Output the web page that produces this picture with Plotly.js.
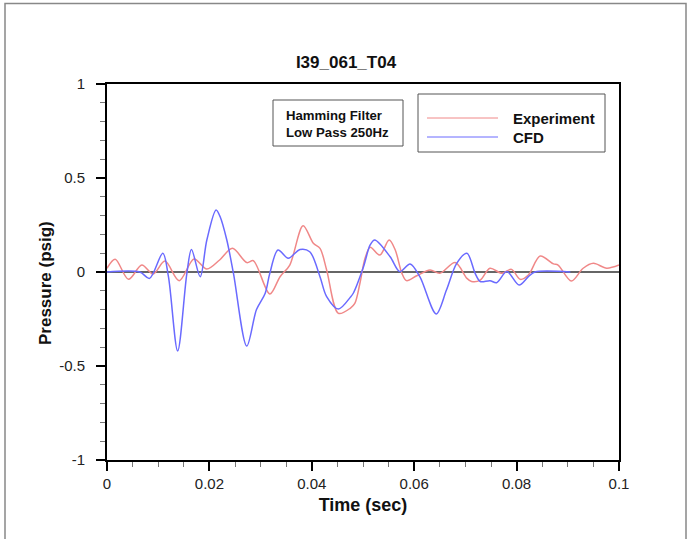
<!DOCTYPE html>
<html>
<head>
<meta charset="utf-8">
<script src="https://cdn.plot.ly/plotly-3.0.1.min.js"></script>
<style>html,body{margin:0;padding:0;background:#fff;}#chart{width:687px;height:539px;}</style>
</head>
<body>
<div id="chart"></div>
<script>
// Experiment series (time in sec, pressure in psig)
const expTime = [0, 0.0016, 0.0042, 0.0068, 0.009, 0.0113, 0.0141, 0.017, 0.0195, 0.022,
  0.0245, 0.0273, 0.0286, 0.0318, 0.0338, 0.0357, 0.0383, 0.0403, 0.0416, 0.0429,
  0.0452, 0.0475, 0.0484, 0.0494, 0.0504, 0.0514, 0.0533, 0.0551, 0.0563, 0.0576,
  0.0585, 0.0605, 0.0631, 0.065, 0.068, 0.0703, 0.0712, 0.0729, 0.0748, 0.0771,
  0.079, 0.0807, 0.0823, 0.0846, 0.0872, 0.0881, 0.0907, 0.093, 0.095, 0.0976, 0.1];
const expPressure = [0.02, 0.068, -0.039, 0.037, -0.011, 0.058, -0.046, 0.069, 0.016, 0.064,
  0.126, 0.05, 0.06, -0.117, -0.025, 0.037, 0.246, 0.153, 0.126, 0.011,
  -0.22, -0.193, -0.167, -0.06, 0.073, 0.131, 0.09, 0.17, 0.117, -0.007,
  -0.046, -0.02, 0.011, -0.007, 0.05, -0.034, -0.05, -0.043, 0.02, -0.007,
  0.014, -0.039, -0.016, 0.085, 0.043, 0.037, -0.048, 0.02, 0.046, 0.02, 0.037];

// CFD series
const cfdTime = [0, 0.0064, 0.0083, 0.0109, 0.012, 0.0138, 0.0156, 0.0165, 0.0182, 0.0195,
  0.0213, 0.0221, 0.0234, 0.0247, 0.0273, 0.0292, 0.0309, 0.0318, 0.0334, 0.0354,
  0.0377, 0.0396, 0.0416, 0.0429, 0.0452, 0.0475, 0.0481, 0.0501, 0.0514, 0.0523,
  0.0553, 0.0572, 0.0592, 0.0611, 0.0643, 0.0663, 0.0683, 0.0703, 0.0719, 0.0729,
  0.0748, 0.0761, 0.0781, 0.0805, 0.0823, 0.0836, 0.0905];
const cfdPressure = [0, 0, -0.034, 0.1, -0.025, -0.42, -0.007, 0.12, -0.025, 0.17,
  0.33, 0.294, 0.17, -0.007, -0.394, -0.2, -0.113, -0.007, 0.117, 0.073,
  0.12, 0.108, -0.025, -0.131, -0.197, -0.135, -0.113, 0.028, 0.144, 0.17,
  0.081, 0.002, 0.043, -0.025, -0.223, -0.096, 0.046, 0.1, -0.007, -0.051,
  -0.046, -0.057, 0.002, -0.069, -0.025, 0, 0];

const seriesNames = ["Experiment", "CFD"];
const seriesColors = ["#f08888", "#6a6aff"];
const chartTitle = "I39_061_T04";
const xTitle = "Time (sec)";
const yTitle = "Pressure (psig)";
const xTickVals = [0, 0.02, 0.04, 0.06, 0.08, 0.1];
const xTickText = ["0", "0.02", "0.04", "0.06", "0.08", "0.1"];
const yTickVals = [-1, -0.5, 0, 0.5, 1];
const yTickText = ["-1", "-0.5", "0", "0.5", "1"];
const noteLines = ["Hamming Filter", "Low Pass 250Hz"];

const FONT = "Liberation Sans, Arial, Helvetica, sans-serif";

// pixel -> paper helpers (plot area: x 107..619, y 84..460)
const L = 107, R = 619, T = 84, B = 460;
const px = v => (v - L) / (R - L);
const py = v => (B - v) / (B - T);

const traces = [
  {x: expTime, y: expPressure, type: "scatter", mode: "lines", name: seriesNames[0],
   line: {color: seriesColors[0], width: 1.5, shape: "spline", smoothing: 0.9}, showlegend: false},
  {x: cfdTime, y: cfdPressure, type: "scatter", mode: "lines", name: seriesNames[1],
   line: {color: seriesColors[1], width: 1.5, shape: "spline", smoothing: 0.9}, showlegend: false}
];

const layout = {
  width: 687, height: 539,
  margin: {l: L, r: 687 - R, t: T, b: 539 - B, pad: 0},
  paper_bgcolor: "#fff", plot_bgcolor: "#fff",
  font: {family: FONT, color: "#222"},
  title: {text: "<b>" + chartTitle + "</b>", x: 346 / 687, xref: "container", xanchor: "center",
    y: 1 - 62 / 539, yref: "container", yanchor: "middle", font: {size: 17, color: "#111", family: FONT}},
  xaxis: {
    range: [0, 0.1], tickvals: xTickVals, ticktext: xTickText,
    ticks: "outside", ticklen: 9, tickwidth: 2, tickcolor: "#000",
    showline: true, linecolor: "#000", linewidth: 2, mirror: true,
    showgrid: false, zeroline: false,
    tickfont: {size: 15, color: "#222", family: FONT},
    minor: {dtick: 0.005, ticks: "outside", ticklen: 5, tickwidth: 1, tickcolor: "#777", showgrid: false},
    title: {text: "<b>" + xTitle + "</b>", font: {size: 18, color: "#111", family: FONT}, standoff: 7}
  },
  yaxis: {
    range: [-1, 1], tickvals: yTickVals, ticktext: yTickText,
    ticks: "outside", ticklen: 9, tickwidth: 2, tickcolor: "#000",
    showline: true, linecolor: "#000", linewidth: 2, mirror: true,
    showgrid: false, zeroline: true, zerolinecolor: "#666", zerolinewidth: 2,
    tickfont: {size: 15, color: "#222", family: FONT},
    ticklabelstandoff: 8,
    minor: {dtick: 0.1, ticks: "outside", ticklen: 5, tickwidth: 1, tickcolor: "#777", showgrid: false},
    title: {text: ""}
  },
  shapes: [
    // outer frame
    {type: "rect", xref: "paper", yref: "paper", x0: px(5), x1: px(686), y0: py(545), y1: py(3.5),
     line: {color: "#888", width: 1.5}, fillcolor: "rgba(0,0,0,0)", layer: "below"},
    // filter note box
    {type: "rect", xref: "paper", yref: "paper", x0: px(273), x1: px(403), y0: py(146), y1: py(100),
     line: {color: "#555", width: 1}, fillcolor: "#fff", layer: "above"},
    // legend box
    {type: "rect", xref: "paper", yref: "paper", x0: px(418), x1: px(605), y0: py(152), y1: py(94),
     line: {color: "#555", width: 1}, fillcolor: "#fff", layer: "above"},
    {type: "line", xref: "paper", yref: "paper", x0: px(427), x1: px(498), y0: py(118), y1: py(118),
     line: {color: seriesColors[0], width: 1}},
    {type: "line", xref: "paper", yref: "paper", x0: px(427), x1: px(498), y0: py(137), y1: py(137),
     line: {color: seriesColors[1], width: 1}}
  ],
  annotations: [
    {xref: "paper", yref: "paper", x: px(45), y: py(283), xanchor: "center", yanchor: "middle",
     text: "<b>" + yTitle + "</b>", textangle: -90, showarrow: false,
     font: {size: 17, color: "#111", family: FONT}},
    {xref: "paper", yref: "paper", x: px(285), y: py(124), xanchor: "left", yanchor: "middle",
     text: "<b>" + noteLines.join("<br>") + "</b>", showarrow: false, align: "left", borderpad: 0,
     font: {size: 13.2, color: "#111", family: FONT}},
    {xref: "paper", yref: "paper", x: px(511), y: py(118), xanchor: "left", yanchor: "middle",
     text: "<b>" + seriesNames[0] + "</b>", showarrow: false, font: {size: 15, color: "#111", family: FONT}},
    {xref: "paper", yref: "paper", x: px(511), y: py(137), xanchor: "left", yanchor: "middle",
     text: "<b>" + seriesNames[1] + "</b>", showarrow: false, font: {size: 15, color: "#111", family: FONT}}
  ]
};

Plotly.newPlot("chart", traces, layout, {staticPlot: true, displayModeBar: false});
</script>
</body>
</html>
